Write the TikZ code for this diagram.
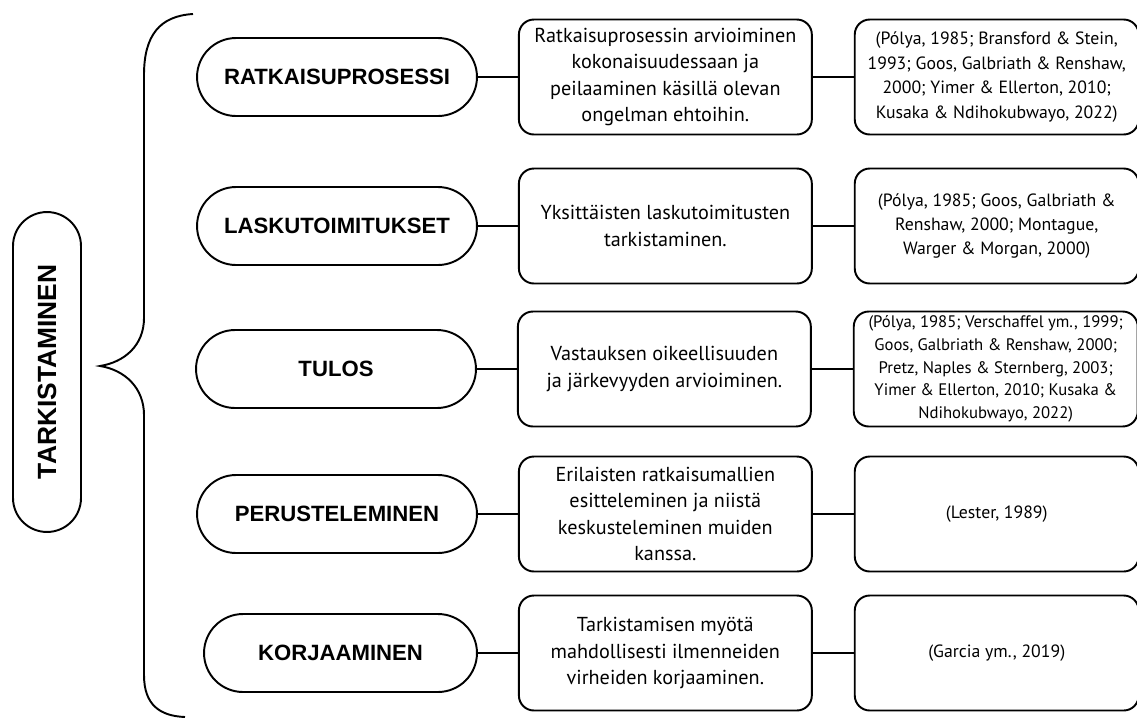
\documentclass[tikz,border=0pt]{standalone}
\usepackage{fontspec}
\setmainfont{Liberation Sans}
\newfontfamily\narrowfont{PT Sans}
\usetikzlibrary{positioning}

\begin{document}
\begin{tikzpicture}[x=0.02cm, y=-0.02cm]
    \tikzstyle{pill} = [rectangle, rounded corners=0.78cm, minimum width=5.6cm,
                        minimum height=1.56cm, inner sep=0pt, text centered,
                        draw=black, line width=1.1pt, font=\fontsize{12.6}{15}\selectfont\bfseries]
    \tikzstyle{midbox} = [rectangle, rounded corners=0.3cm, minimum width=5.86cm,
                          minimum height=2.3cm, inner sep=0pt, align=center,
                          draw=black, line width=1.1pt, font=\narrowfont\fontsize{11.5}{15.1}\selectfont]
    \tikzstyle{refbox} = [rectangle, rounded corners=0.3cm, minimum width=5.68cm,
                          minimum height=2.3cm, inner sep=0pt, align=center,
                          draw=black, line width=1.1pt, font=\narrowfont\fontsize{10.1}{13.9}\selectfont]
    \tikzstyle{link} = [line width=1.1pt, color=black]

    \useasboundingbox (0,0) rectangle (1137,718);

    \node (main) [pill, rotate=90, minimum width=6.4cm, minimum height=1.36cm,
                  rounded corners=0.68cm, font=\fontsize{15}{18}\selectfont\bfseries]
                  at (47,372) {TARKISTAMINEN};

    % brace
    \draw[link] (193,14) .. controls (160,16) and (144,35) .. (144,75) -- (144,318)
        .. controls (144,345) and (125,362) .. (100,366)
        .. controls (125,370) and (144,388) .. (144,415) -- (144,675)
        .. controls (144,705) and (160,716) .. (185,717);

    \node (prosessi) [pill] at (337,77) {RATKAISUPROSESSI};
    \node (prosessiTxt) [midbox, right=0.8cm of prosessi]
        {Ratkaisuprosessin arvioiminen\\kokonaisuudessaan ja\\peilaaminen käsillä olevan\\ongelman ehtoihin.};
    \node (prosessiRef) [refbox, right=0.82cm of prosessiTxt]
        {(Pólya, 1985; Bransford \& Stein,\\1993; Goos, Galbriath \& Renshaw,\\2000; Yimer \& Ellerton, 2010;\\Kusaka \& Ndihokubwayo, 2022)};

    \node (lasku) [pill] at (337,226) {LASKUTOIMITUKSET};
    \node (laskuTxt) [midbox, right=0.8cm of lasku]
        {Yksittäisten laskutoimitusten\\tarkistaminen.};
    \node (laskuRef) [refbox, right=0.82cm of laskuTxt]
        {(Pólya, 1985; Goos, Galbriath \&\\Renshaw, 2000; Montague,\\Warger \& Morgan, 2000)};

    \node (tulos) [pill] at (336,369) {TULOS};
    \node (tulosTxt) [midbox, right=0.8cm of tulos]
        {Vastauksen oikeellisuuden\\ja järkevyyden arvioiminen.};
    \node (tulosRef) [refbox, right=0.82cm of tulosTxt, font=\narrowfont\fontsize{9.5}{12.9}\selectfont]
        {(Pólya, 1985; Verschaffel ym., 1999;\\Goos, Galbriath \& Renshaw, 2000;\\Pretz, Naples \& Sternberg, 2003;\\Yimer \& Ellerton, 2010; Kusaka \&\\Ndihokubwayo, 2022)};

    \node (perustelu) [pill] at (337,514) {PERUSTELEMINEN};
    \node (perusteluTxt) [midbox, right=0.8cm of perustelu]
        {Erilaisten ratkaisumallien\\esitteleminen ja niistä\\keskusteleminen muiden\\kanssa.};
    \node (perusteluRef) [refbox, right=0.82cm of perusteluTxt] {(Lester, 1989)};

    \node (korjaus) [pill, minimum width=5.46cm] at (340.5,653) {KORJAAMINEN};
    \node (korjausTxt) [midbox, right=0.8cm of korjaus]
        {Tarkistamisen myötä\\mahdollisesti ilmenneiden\\virheiden korjaaminen.};
    \node (korjausRef) [refbox, right=0.82cm of korjausTxt] {(Garcia ym., 2019)};

    \draw[link] (prosessi)     -- (prosessiTxt);
    \draw[link] (prosessiTxt)  -- (prosessiRef);
    \draw[link] (lasku)        -- (laskuTxt);
    \draw[link] (laskuTxt)     -- (laskuRef);
    \draw[link] (tulos)        -- (tulosTxt);
    \draw[link] (tulosTxt)     -- (tulosRef);
    \draw[link] (perustelu)    -- (perusteluTxt);
    \draw[link] (perusteluTxt) -- (perusteluRef);
    \draw[link] (korjaus)      -- (korjausTxt);
    \draw[link] (korjausTxt)   -- (korjausRef);
\end{tikzpicture}
\end{document}
